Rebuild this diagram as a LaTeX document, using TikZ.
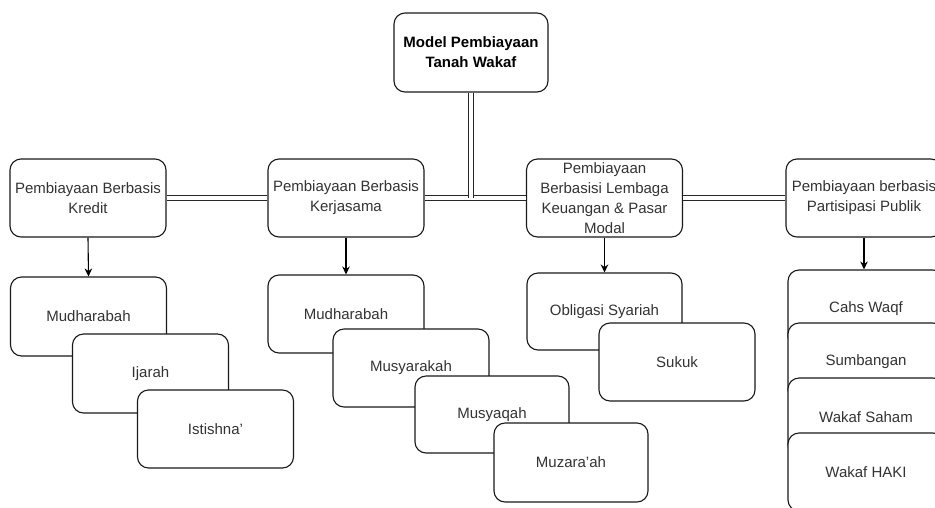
\documentclass[tikz,border=0pt]{standalone}
\usepackage{fontspec}
\setmainfont{Liberation Sans}
\usetikzlibrary{arrows.meta}
\begin{document}
\begin{tikzpicture}[x=1pt,y=-1pt,
  box/.style={draw=black!90, line width=1.1pt, rounded corners=11pt, fill=white,
    minimum width=156pt, minimum height=78pt, inner sep=0pt, align=center,
    text=black!80, font=\fontsize{15}{20}\selectfont},
  titlebox/.style={box, minimum width=154pt, minimum height=79pt, text=black,
    font=\fontsize{15}{20}\selectfont\bfseries},
  link/.style={double=white, double distance=4.6pt, line width=0.9pt, draw=black!85},
  down/.style={line width=1.1pt, draw=black, -{Stealth[length=8pt,width=7.5pt]}}
]
\useasboundingbox (0,0) rectangle (935,507);
\clip (0,0) rectangle (935,507);
\fill[white] (0,0) rectangle (935,507);

% top level
\node[titlebox] (title) at (471,52.5) {Model Pembiayaan\\Tanah Wakaf};

% financing categories
\node[box] (kredit)  at (88,198)    {Pembiayaan Berbasis\\Kredit};
\node[box] (kerja)   at (346,198)   {Pembiayaan Berbasis\\Kerjasama};
\node[box] (lembaga) at (604.5,198) {Pembiayaan\\Berbasisi Lembaga\\Keuangan \& Pasar\\Modal};
\node[box] (publik)  at (864,198)   {Pembiayaan berbasis\\Partisipasi Publik};

% double links between the categories
\draw[link] (kredit.east) -- (kerja.west);
\draw[link] (kerja.east) -- (lembaga.west);
\draw[link] (lembaga.east) -- (publik.west);
\coordinate (join) at (title.south |- kerja.east);
\draw[link] (title.south) -- (join);

% credit based
\node[box, minimum height=79pt] (k1) at (88.5,316.5) {Mudharabah};
\node[box, minimum height=79pt] (k2) at (150.5,373.5) {Ijarah};
\node[box] (k3) at (215.5,429) {Istishna'};

% partnership based
\node[box] (j1) at (346,314) {Mudharabah};
\node[box] (j2) at (411,368) {Musyarakah};
\node[box, minimum width=154pt, minimum height=77pt] (j3) at (492,414.5) {Musyaqah};
\node[box, minimum width=154pt, minimum height=79pt] (j4) at (571,462.5) {Muzara'ah};

% institutions and capital market
\node[box, minimum width=155pt, minimum height=77pt] (l1) at (604.5,311.5) {Obligasi Syariah};
\node[box] (l2) at (677,362) {Sukuk};

% public participation
\node[box] (p1) at (866,309) {Cahs Waqf};
\node[box] (p2) at (866,362) {Sumbangan};
\node[box] (p3) at (866,417) {Wakaf Saham};
\node[box] (p4) at (866,472) {Wakaf HAKI};

% arrows to the first instrument of each category
\draw[down] (kredit.south) -- (k1.north);
\draw[down] (kerja.south) -- (j1.north);
\draw[down] (lembaga.south) -- (l1.north);
\draw[down] (publik.south) -- (publik.south |- p1.north);
\end{tikzpicture}
\end{document}
